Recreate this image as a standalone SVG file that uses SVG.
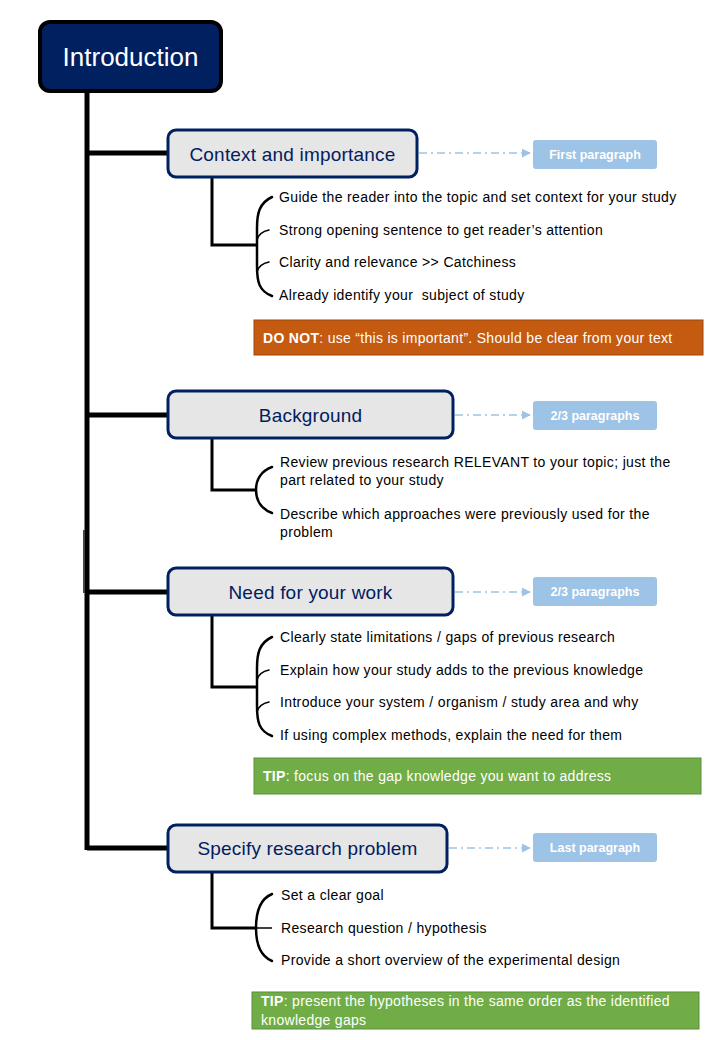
<svg xmlns="http://www.w3.org/2000/svg" width="720" height="1040" viewBox="0 0 720 1040">
  <defs>
    <style>
      text { font-family: "Liberation Sans", Arial, sans-serif; }
      .section rect { fill: #e7e6e6; stroke: #002060; stroke-width: 3; }
      .section text { fill: #002060; font-size: 19px; letter-spacing: 0.2px; text-anchor: middle; dominant-baseline: central; }
      .tag rect { fill: #9dc3e6; }
      .tag text { fill: #ffffff; font-size: 12.5px; font-weight: bold; text-anchor: middle; dominant-baseline: central; }
      .item { fill: #000000; font-size: 14px; letter-spacing: 0.35px; }
      .note text { fill: #ffffff; font-size: 14px; letter-spacing: 0.3px; }
      .trunk { stroke: #000000; stroke-width: 5; fill: none; }
      .branch { stroke: #000000; stroke-width: 3; fill: none; }
      .brace { stroke: #000000; stroke-width: 2.5; fill: none; stroke-linecap: round; }
      .curl { stroke: #000000; stroke-width: 1.6; fill: none; stroke-linecap: round; }
      .link { stroke: #9dc3e6; stroke-width: 1.5; fill: none; stroke-dasharray: 8 4 2 4; }
    </style>
    <marker id="arrow" viewBox="0 0 10 10" refX="9" refY="5" markerWidth="6" markerHeight="6" orient="auto">
      <path d="M0,0 L10,5 L0,10 z" fill="#9dc3e6"/>
    </marker>
  </defs>

  <rect width="720" height="1040" fill="#ffffff"/>

  <!-- connectors -->
  <g id="connectors">
    <path class="trunk" d="M87,91 V850"/>
    <path d="M84,530 V593" stroke="#444444" stroke-width="2" fill="none"/>
    <path class="trunk" d="M87,153 H168 M87,415 H168 M87,592 H168 M87,848 H168"/>
    <path class="branch" d="M212,177 V245 H258 M212,438 V490 H257 M212,615 V687 H258 M212,872 V928 H257"/>
    <path d="M257,928 H272" stroke="#000000" stroke-width="1.5" fill="none"/>
    <!-- braces -->
    <path class="brace" d="M272,197 C259,203 257,214 257,228 L257,266 C257,282 259,291 272,296"/>
    <path class="curl" d="M257,240 Q259,232 269,230 M257,272 Q259,264 269,262"/>
    <path class="brace" d="M272,467 C261,471 256,480 256,490 C256,500 261,509 272,513"/>
    <path class="brace" d="M272,637 C259,643 257,654 257,668 L257,706 C257,722 259,731 272,736"/>
    <path class="curl" d="M257,680 Q259,672 269,670 M257,712 Q259,704 269,702"/>
    <path class="brace" d="M272,894 C260,899 256,912 256,928 C256,944 260,956 272,961"/>
    <!-- links to paragraph tags -->
    <path class="link" d="M419,153 H530" marker-end="url(#arrow)"/>
    <path class="link" d="M455,415 H530" marker-end="url(#arrow)"/>
    <path class="link" d="M455,592 H530" marker-end="url(#arrow)"/>
    <path class="link" d="M449,848 H530" marker-end="url(#arrow)"/>
  </g>

  <!-- root -->
  <g id="introduction">
    <rect x="40" y="22" width="181" height="69" rx="10" fill="#002060" stroke="#000000" stroke-width="4"/>
    <text x="130.5" y="57" fill="#ffffff" font-size="26" text-anchor="middle" dominant-baseline="central">Introduction</text>
  </g>

  <!-- sections -->
  <g id="context" class="section">
    <rect x="168" y="130" width="249" height="47" rx="8"/>
    <text x="292.5" y="154">Context and importance</text>
  </g>
  <g id="background" class="section">
    <rect x="168" y="391" width="285" height="47" rx="8"/>
    <text x="310.5" y="415.5">Background</text>
  </g>
  <g id="need" class="section">
    <rect x="168" y="568" width="285" height="47" rx="8"/>
    <text x="310.5" y="592">Need for your work</text>
  </g>
  <g id="problem" class="section">
    <rect x="168" y="825" width="279" height="47" rx="8"/>
    <text x="307.5" y="848.5">Specify research problem</text>
  </g>

  <!-- paragraph tags -->
  <g id="tag-first" class="tag">
    <rect x="533" y="140" width="124" height="29" rx="3"/>
    <text x="595" y="155">First paragraph</text>
  </g>
  <g id="tag-background" class="tag">
    <rect x="533" y="401" width="124" height="29" rx="3"/>
    <text x="595" y="416">2/3 paragraphs</text>
  </g>
  <g id="tag-need" class="tag">
    <rect x="533" y="577" width="124" height="29" rx="3"/>
    <text x="595" y="592">2/3 paragraphs</text>
  </g>
  <g id="tag-last" class="tag">
    <rect x="533" y="833" width="124" height="29" rx="3"/>
    <text x="595" y="848">Last paragraph</text>
  </g>

  <!-- items -->
  <g id="context-items">
    <text class="item" x="279" y="202">Guide the reader into the topic and set context for your study</text>
    <text class="item" x="279" y="235">Strong opening sentence to get reader’s attention</text>
    <text class="item" x="279" y="267">Clarity and relevance &gt;&gt; Catchiness</text>
    <text class="item" x="279" y="300" xml:space="preserve">Already identify your  subject of study</text>
  </g>
  <g id="background-items">
    <text class="item" x="280" y="467">Review previous research RELEVANT to your topic; just the</text>
    <text class="item" x="280" y="485">part related to your study</text>
    <text class="item" x="280" y="519">Describe which approaches were previously used for the</text>
    <text class="item" x="280" y="537">problem</text>
  </g>
  <g id="need-items">
    <text class="item" x="280" y="642">Clearly state limitations / gaps of previous research</text>
    <text class="item" x="280" y="675">Explain how your study adds to the previous knowledge</text>
    <text class="item" x="280" y="707">Introduce your system / organism / study area and why</text>
    <text class="item" x="280" y="740">If using complex methods, explain the need for them</text>
  </g>
  <g id="problem-items">
    <text class="item" x="281" y="900">Set a clear goal</text>
    <text class="item" x="281" y="933">Research question / hypothesis</text>
    <text class="item" x="281" y="965">Provide a short overview of the experimental design</text>
  </g>

  <!-- notes -->
  <g id="note-donot" class="note">
    <rect x="254" y="320" width="449" height="35" fill="#c55a11" stroke="#a0470c" stroke-width="1"/>
    <text x="263" y="342.5"><tspan font-weight="bold">DO NOT</tspan>: use “this is important”. Should be clear from your text</text>
  </g>
  <g id="note-tip-gap" class="note">
    <rect x="254" y="758" width="447" height="36" fill="#70ad47" stroke="#5a8f38" stroke-width="1"/>
    <text x="263" y="781"><tspan font-weight="bold">TIP</tspan>: focus on the gap knowledge you want to address</text>
  </g>
  <g id="note-tip-order" class="note">
    <rect x="252" y="992" width="447" height="37" fill="#70ad47" stroke="#5a8f38" stroke-width="1"/>
    <text x="261" y="1006"><tspan font-weight="bold">TIP</tspan>: present the hypotheses in the same order as the identified</text>
    <text x="261" y="1025">knowledge gaps</text>
  </g>
</svg>
